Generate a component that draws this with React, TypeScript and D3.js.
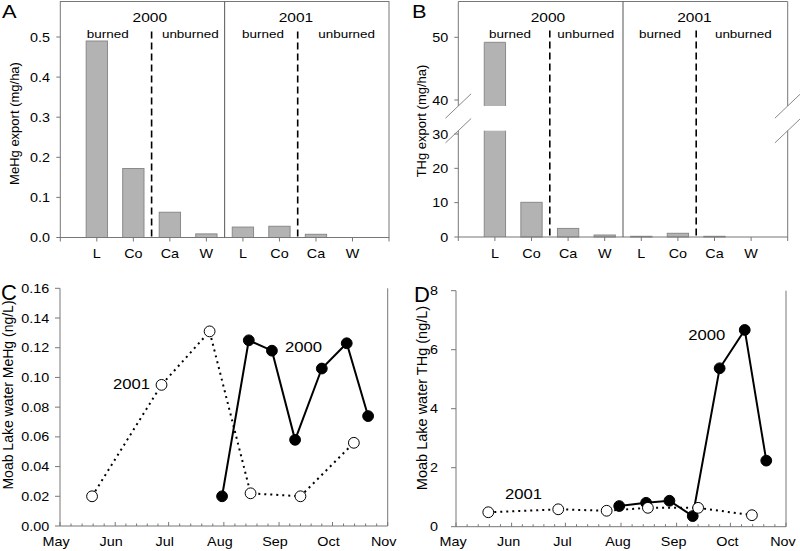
import React from "react";
import * as d3 from "d3";

// ---------- data ----------
const categories = ["L", "Co", "Ca", "W"];
const years = ["2000", "2001"];
const groupLabels = ["burned", "unburned"];
const meHgExport2000 = [0.49, 0.172, 0.063, 0.009];
const meHgExport2001 = [0.026, 0.028, 0.008, 0];
const tHgExport2000 = [49.2, 10.1, 2.5, 0.58];
const tHgExport2001 = [0.2, 1.08, 0.2, 0];
const meHgExportTicks = [0, 0.1, 0.2, 0.3, 0.4, 0.5];
const tHgLowerTicks = [0, 10, 20, 30];
const tHgUpperTicks = [40, 50];

const monthLabels = ["May", "Jun", "Jul", "Aug", "Sep", "Oct", "Nov"];
const dates2000 = ["07-31", "08-15", "08-28", "09-10", "09-25", "10-09", "10-21"];
const dates2001 = ["05-19", "06-27", "07-24", "08-16", "09-13", "10-13"];
const lakeMeHg2000 = [0.02, 0.125, 0.118, 0.058, 0.106, 0.123, 0.074];
const lakeMeHg2001 = [0.02, 0.095, 0.131, 0.022, 0.02, 0.056];
const lakeTHg2000 = [0.7, 0.81, 0.88, 0.36, 5.37, 6.67, 2.24];
const lakeTHg2001 = [0.49, 0.59, 0.54, 0.64, 0.64, 0.39];
const lakeMeHgTicks = [0, 0.02, 0.04, 0.06, 0.08, 0.1, 0.12, 0.14, 0.16];
const lakeTHgTicks = [0, 2, 4, 6, 8];

// ---------- style ----------
const FONT = "'Liberation Sans', Arial, Helvetica, sans-serif";
const S = 1.15; // horizontal text stretch of the original figure
const AX = "#777";
const BAR_FILL = "#b3b3b3";
const BAR_STROKE = "#8a8a8a";

const parse = d3.timeParse("%Y-%m-%d");
const toDate = (md: string) => parse("2000-" + md) as Date;
const monthDates = monthLabels.map((_, i) => new Date(2000, 4 + i, 1));

function T({ x, y, size, anchor = "start", children, sx = S, weight = "normal" }: any) {
  return (
    <text
      transform={`translate(${x},${y}) scale(${sx},1)`}
      textAnchor={anchor}
      fontSize={size}
      fontFamily={FONT}
      fontWeight={weight}
      fill="#000"
    >
      {children}
    </text>
  );
}

function RotLabel({ x, y, size, children }: any) {
  return (
    <text
      transform={`translate(${x},${y}) rotate(-90)`}
      textAnchor="middle"
      fontSize={size}
      fontFamily={FONT}
      fill="#000"
    >
      {children}
    </text>
  );
}

// ---------- bar panel (A) ----------
function PanelA() {
  const x = d3.scaleLinear().domain([0, 9]).range([60.3, 389]);
  const y = d3.scaleLinear().domain([0, 0.5]).range([237.5, 37]);
  const top = 1.5;
  const bw = 21.3;
  const vals = [meHgExport2000, meHgExport2001];
  return (
    <g>
      <T x={2} y={18} size={19}>A</T>
      {vals.map((arr, yi) =>
        arr.map((v, i) => {
          const cx = x(1 + i + 4 * yi);
          return v > 0 ? (
            <rect key={`${yi}-${i}`} x={cx - bw / 2} y={y(v)} width={bw} height={y(0) - y(v)}
              fill={BAR_FILL} stroke={BAR_STROKE} strokeWidth={1} />
          ) : null;
        })
      )}
      {/* frame */}
      <rect x={x(0)} y={top} width={x(9) - x(0)} height={y(0) - top} fill="none" stroke={AX} strokeWidth={1} />
      <line x1={x(4.5)} x2={x(4.5)} y1={top} y2={y(0)} stroke="#555" strokeWidth={1} />
      {[2.5, 6.5].map((d) => (
        <line key={d} x1={x(d)} x2={x(d)} y1={31.5} y2={y(0)} stroke="#000" strokeWidth={1.6} strokeDasharray="7,4" />
      ))}
      {/* y ticks */}
      {meHgExportTicks.map((t) => (
        <g key={t}>
          <line x1={x(0) - 4} x2={x(0)} y1={y(t)} y2={y(t)} stroke={AX} />
          <T x={50} y={y(t) + 4.5} size={12.5} anchor="end">{d3.format(".1f")(t)}</T>
        </g>
      ))}
      {/* x ticks + labels */}
      {[0, 9].map((d) => (
        <line key={d} x1={x(d)} x2={x(d)} y1={y(0)} y2={y(0) + 4} stroke={AX} />
      ))}
      {years.map((yr, yi) =>
        categories.map((c, i) => (
          <g key={`${yr}${c}`}>
            <line x1={x(1 + i + 4 * yi)} x2={x(1 + i + 4 * yi)} y1={y(0)} y2={y(0) + 4} stroke={AX} />
            <T x={x(1 + i + 4 * yi)} y={258} size={12.5} anchor="middle">{c}</T>
          </g>
        ))
      )}
      {years.map((yr, yi) => (
        <T key={yr} x={x(2.45 + 4 * yi)} y={22} size={13.5} anchor="middle">{yr}</T>
      ))}
      <T x={x(1.3)} y={38} size={11.7} anchor="middle">{groupLabels[0]}</T>
      <T x={x(3.56)} y={38} size={11.7} anchor="middle">{groupLabels[1]}</T>
      <T x={x(5.55)} y={38} size={11.7} anchor="middle">{groupLabels[0]}</T>
      <T x={x(7.84)} y={38} size={11.7} anchor="middle">{groupLabels[1]}</T>
      <RotLabel x={19} y={123.5} size={13}>MeHg export (mg/ha)</RotLabel>
    </g>
  );
}

// ---------- broken-axis bar panel (B) ----------
function PanelB() {
  const x = d3.scaleLinear().domain([0, 9]).range([458.3, 787.7]);
  const yLo = d3.scaleLinear().domain([0, 30]).range([237, 134]);
  const yHi = d3.scaleLinear().domain([40, 50]).range([100, 37.3]);
  const loTop = 130.7;
  const hiBot = 106;
  const top = 1.5;
  const bw = 21.3;
  const y0 = yLo(0);
  const yOf = (v: number) => (v <= 30 ? yLo(v) : yHi(v));
  const vals = [tHgExport2000, tHgExport2001];
  const breakMarks = (cx: number) =>
    [hiBot, loTop].map((by, k) => (
      <line key={k} x1={cx - 12.8} y1={by + 12.2} x2={cx + 12.8} y2={by - 12.2} stroke="#888" strokeWidth={1} />
    ));
  return (
    <g>
      <T x={412} y={17.5} size={19}>B</T>
      {vals.map((arr, yi) =>
        arr.map((v, i) => {
          const cx = x(1 + i + 4 * yi);
          if (v <= 0) return null;
          if (v <= 30) {
            return (
              <rect key={`${yi}-${i}`} x={cx - bw / 2} y={yOf(v)} width={bw} height={y0 - yOf(v)}
                fill={BAR_FILL} stroke={BAR_STROKE} strokeWidth={1} />
            );
          }
          return (
            <g key={`${yi}-${i}`}>
              <rect x={cx - bw / 2} y={loTop} width={bw} height={y0 - loTop} fill={BAR_FILL} />
              <rect x={cx - bw / 2} y={yOf(v)} width={bw} height={hiBot - yOf(v)} fill={BAR_FILL} />
              <path d={`M${cx - bw / 2},${y0}V${loTop}M${cx + bw / 2},${y0}V${loTop}`} stroke={BAR_STROKE} fill="none" />
              <path d={`M${cx - bw / 2},${hiBot}V${yOf(v)}H${cx + bw / 2}V${hiBot}`} stroke={BAR_STROKE} fill="none" />
            </g>
          );
        })
      )}
      {/* frame with breaks */}
      <line x1={x(0)} x2={x(9)} y1={top} y2={top} stroke={AX} />
      <line x1={x(0)} x2={x(9)} y1={y0} y2={y0} stroke={AX} />
      {[x(0), x(9)].map((cx, k) => (
        <g key={k}>
          <line x1={cx} x2={cx} y1={top} y2={hiBot} stroke={AX} />
          <line x1={cx} x2={cx} y1={loTop} y2={y0} stroke={AX} />
          {breakMarks(cx)}
        </g>
      ))}
      <line x1={x(4.5)} x2={x(4.5)} y1={top} y2={y0} stroke="#555" strokeWidth={1} />
      {[2.5, 6.5].map((d) => (
        <line key={d} x1={x(d)} x2={x(d)} y1={30.5} y2={y0} stroke="#000" strokeWidth={1.6} strokeDasharray="7,4" />
      ))}
      {tHgLowerTicks.map((t) => (
        <g key={t}>
          <line x1={x(0) - 4} x2={x(0)} y1={yLo(t)} y2={yLo(t)} stroke={AX} />
          <T x={448.3} y={yLo(t) + 4.5} size={12.5} anchor="end">{t}</T>
        </g>
      ))}
      {tHgUpperTicks.map((t) => (
        <g key={t}>
          <line x1={x(0) - 4} x2={x(0)} y1={yHi(t)} y2={yHi(t)} stroke={AX} />
          <T x={448.3} y={yHi(t) + 4.5} size={12.5} anchor="end">{t}</T>
        </g>
      ))}
      {[0, 9].map((d) => (
        <line key={d} x1={x(d)} x2={x(d)} y1={y0} y2={y0 + 4} stroke={AX} />
      ))}
      {years.map((yr, yi) =>
        categories.map((c, i) => (
          <g key={`${yr}${c}`}>
            <line x1={x(1 + i + 4 * yi)} x2={x(1 + i + 4 * yi)} y1={y0} y2={y0 + 4} stroke={AX} />
            <T x={x(1 + i + 4 * yi)} y={258} size={12.5} anchor="middle">{c}</T>
          </g>
        ))
      )}
      {years.map((yr, yi) => (
        <T key={yr} x={x(2.45 + 4 * yi)} y={22} size={13.5} anchor="middle">{yr}</T>
      ))}
      <T x={510} y={38} size={11.7} anchor="middle">{groupLabels[0]}</T>
      <T x={585.7} y={38} size={11.7} anchor="middle">{groupLabels[1]}</T>
      <T x={660} y={38} size={11.7} anchor="middle">{groupLabels[0]}</T>
      <T x={743.3} y={38} size={11.7} anchor="middle">{groupLabels[1]}</T>
      <RotLabel x={426} y={121} size={13}>THg export (mg/ha)</RotLabel>
    </g>
  );
}

// ---------- time-series panels (C, D) ----------
function LinePanel({ letter, letterX, letterY, x0, x1, yBottom, yTop, yMax, ticks, fmt, tickLabelX,
  monthLabelShift, yLabel, yLabelX, yLabelY, yLabelSize, s2000, s2001, ann2000, ann2001 }: any) {
  const x = d3.scaleTime().domain([monthDates[0], monthDates[6]]).range([x0, x1]);
  const y = d3.scaleLinear().domain([0, yMax]).range([yBottom, yTop]);
  const line = d3.line<[Date, number]>().x((d) => x(d[0])).y((d) => y(d[1]));
  const p2000: [Date, number][] = dates2000.map((d, i) => [toDate(d), s2000[i]]);
  const p2001: [Date, number][] = dates2001.map((d, i) => [toDate(d), s2001[i]]);
  const minor: number[] = [];
  for (let m = 0; m < 6; m++) {
    const a = x(monthDates[m]);
    const b = x(monthDates[m + 1]);
    for (let k = 1; k < 5; k++) minor.push(a + ((b - a) * k) / 5);
  }
  const r = 5.4;
  return (
    <g>
      <T x={letterX} y={letterY} size={22} sx={1}>{letter}</T>
      <line x1={x0} x2={x0} y1={yTop} y2={yBottom} stroke={AX} />
      <line x1={x0} x2={x1} y1={yBottom} y2={yBottom} stroke={AX} />
      <line x1={x1} x2={x1} y1={yTop} y2={yBottom} stroke={AX} />
      {ticks.map((t: number) => (
        <g key={t}>
          <line x1={x0 - 5} x2={x0} y1={y(t)} y2={y(t)} stroke={AX} />
          <T x={tickLabelX} y={y(t) + 4.5} size={12.5} anchor="end">{fmt(t)}</T>
        </g>
      ))}
      {minor.map((mx, i) => (
        <line key={i} x1={mx} x2={mx} y1={yBottom} y2={yBottom - 2.5} stroke={AX} />
      ))}
      {monthDates.map((d, i) => (
        <g key={i}>
          <line x1={x(d)} x2={x(d)} y1={yBottom} y2={yBottom - 4} stroke={AX} />
          <T x={x(d) + monthLabelShift} y={546} size={12.5} anchor="middle">{monthLabels[i]}</T>
        </g>
      ))}
      <path d={line(p2000) || ""} fill="none" stroke="#000" strokeWidth={2} />
      {p2000.map((p, i) => (
        <circle key={i} cx={x(p[0])} cy={y(p[1])} r={r} fill="#000" stroke="#000" />
      ))}
      <path d={line(p2001) || ""} fill="none" stroke="#000" strokeWidth={2} strokeDasharray="2,4" />
      {p2001.map((p, i) => (
        <circle key={i} cx={x(p[0])} cy={y(p[1])} r={r} fill="#fff" stroke="#000" strokeWidth={1} />
      ))}
      <T x={ann2000[0]} y={ann2000[1]} size={14.5}>{years[0]}</T>
      <T x={ann2001[0]} y={ann2001[1]} size={14.5}>{years[1]}</T>
      <RotLabel x={yLabelX} y={yLabelY} size={yLabelSize}>{yLabel}</RotLabel>
    </g>
  );
}

export default function App() {
  return (
    <svg width={800} height={551} style={{ position: "absolute", left: 0, top: 0, background: "#fff", display: "block" }}>
      <rect width={800} height={551} fill="#fff" />
      <PanelA />
      <PanelB />
      <LinePanel letter="C" letterX={1} letterY={300} x0={60} x1={387.7} yBottom={526} yTop={288.3}
        yMax={0.16} ticks={lakeMeHgTicks} fmt={d3.format(".2f")} tickLabelX={49.3} monthLabelShift={-4}
        yLabel="Moab Lake water MeHg (ng/L)" yLabelX={13} yLabelY={395} yLabelSize={14}
        s2000={lakeMeHg2000} s2001={lakeMeHg2001} ann2000={[285, 351.7]} ann2001={[113, 389.3]} />
      <LinePanel letter="D" letterX={414} letterY={301.5} x0={456} x1={786} yBottom={526.7} yTop={290.7}
        yMax={8} ticks={lakeTHgTicks} fmt={d3.format("d")} tickLabelX={438} monthLabelShift={-3}
        yLabel="Moab Lake water THg (ng/L)" yLabelX={427} yLabelY={398} yLabelSize={14.5}
        s2000={lakeTHg2000} s2001={lakeTHg2001} ann2000={[688.3, 340]} ann2001={[505, 499.3]} />
    </svg>
  );
}
